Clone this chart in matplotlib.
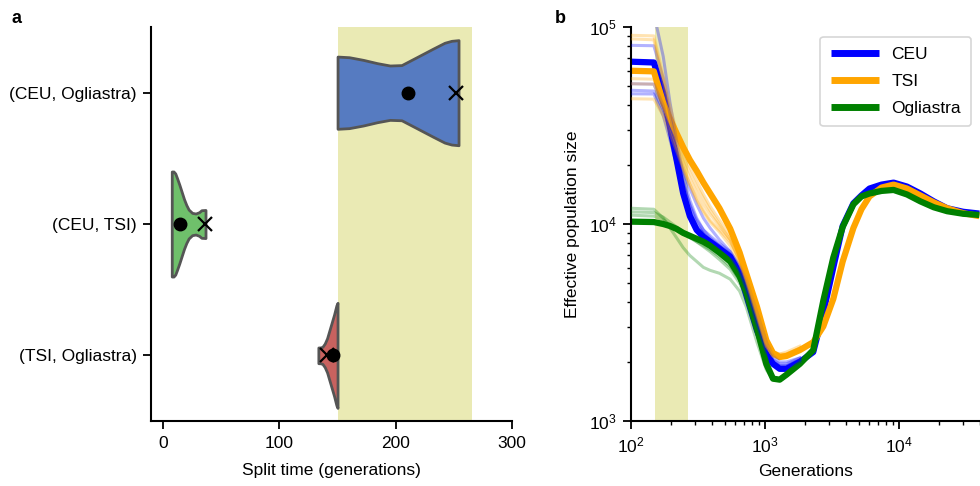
import matplotlib
matplotlib.use("Agg")
import matplotlib.pyplot as plt
import numpy as np

plt.rcParams["font.family"] = ["Liberation Sans", "DejaVu Sans"]
plt.rcParams["mathtext.fontset"] = "custom"
plt.rcParams["mathtext.rm"] = "Liberation Sans"
plt.rcParams["mathtext.it"] = "Liberation Sans:italic"
plt.rcParams["mathtext.bf"] = "Liberation Sans:bold"

FS = 12.5

# ---- panel a: split times ----
PAIRS = ["(CEU, Ogliastra)", "(CEU, TSI)", "(TSI, Ogliastra)"]
PAIR_COLORS = ["#567bc1", "#6fc06b", "#c8625f"]

# violin outlines: split time vs half width
VIOLIN_X = [
    [150, 160, 172, 184, 195, 205, 218, 232, 242, 248, 254],
    [7.5, 9, 10.5, 12, 14, 16, 18, 20, 22, 25, 28, 31, 33, 36.5],
    [133.5, 135, 137, 139, 141, 143, 145, 147, 149, 150],
]
VIOLIN_W = [
    [0.275, 0.27, 0.25, 0.225, 0.207, 0.21, 0.27, 0.335, 0.38, 0.395, 0.40],
    [0.40, 0.40, 0.385, 0.35, 0.30, 0.245, 0.19, 0.145, 0.11, 0.085, 0.08, 0.09, 0.105, 0.107],
    [0.06, 0.06, 0.065, 0.09, 0.13, 0.19, 0.25, 0.31, 0.38, 0.40],
]
DOT_X = [210.5, 14.5, 146.5]
CROSS_X = [252, 36, 141]

SHADE = (150, 266)

# ---- panel b: effective population size trajectories ----
GENERATIONS = [100, 148, 174, 195, 219, 245, 275, 309, 347, 389, 457, 550, 646, 724,
               871, 1023, 1148, 1288, 1445, 1820, 2291, 2723, 3236, 3802, 4571, 5248,
               6026, 7413, 9120, 11482, 14454, 18197, 22909, 30200, 39811]

# log10 of Ne
LOG_NE_CEU = [4.824, 4.82, 4.665, 4.495, 4.325, 4.156, 4.04, 3.97, 3.935, 3.91, 3.875,
              3.834, 3.75, 3.64, 3.46, 3.34, 3.29, 3.265, 3.265, 3.30, 3.35, 3.55, 3.78,
              3.99, 4.105, 4.145, 4.18, 4.20, 4.21, 4.19, 4.155, 4.115, 4.08, 4.062, 4.053]
LOG_NE_TSI = [4.778, 4.775, 4.615, 4.535, 4.46, 4.39, 4.325, 4.27, 4.21, 4.156, 4.08,
              3.976, 3.856, 3.75, 3.58, 3.41, 3.345, 3.325, 3.33, 3.36, 3.40, 3.48, 3.62,
              3.81, 3.98, 4.075, 4.14, 4.185, 4.20, 4.18, 4.145, 4.11, 4.08, 4.055, 4.04]
LOG_NE_OGL = [4.012, 4.01, 4.0, 3.99, 3.975, 3.955, 3.94, 3.925, 3.91, 3.89, 3.855,
              3.81, 3.735, 3.655, 3.47, 3.29, 3.215, 3.21, 3.235, 3.29, 3.36, 3.61, 3.83,
              3.985, 4.10, 4.14, 4.155, 4.168, 4.173, 4.15, 4.115, 4.085, 4.065, 4.052, 4.046]

# bootstrap replicates, first 20 generation points
REP_CEU = [
    [4.907, 4.905, 4.74, 4.56, 4.38, 4.22, 4.09, 4.00, 3.95, 3.92, 3.89, 3.85, 3.78, 3.70, 3.52, 3.38, 3.31, 3.28, 3.28, 3.31],
    [4.712, 4.71, 4.60, 4.47, 4.33, 4.20, 4.10, 4.02, 3.97, 3.94, 3.90, 3.86, 3.79, 3.72, 3.55, 3.40, 3.33, 3.30, 3.30, 3.32],
    [4.679, 4.675, 4.58, 4.48, 4.37, 4.27, 4.18, 4.10, 4.03, 3.98, 3.92, 3.86, 3.78, 3.70, 3.53, 3.38, 3.31, 3.29, 3.29, 3.32],
    [5.08, 5.07, 4.85, 4.62, 4.42, 4.25, 4.12, 4.03, 3.97, 3.93, 3.89, 3.84, 3.76, 3.67, 3.49, 3.35, 3.29, 3.27, 3.27, 3.30],
    [4.661, 4.66, 4.55, 4.43, 4.30, 4.17, 4.06, 3.99, 3.95, 3.92, 3.88, 3.84, 3.77, 3.68, 3.50, 3.36, 3.30, 3.28, 3.28, 3.31],
]
REP_TSI = [
    [4.958, 4.955, 4.75, 4.60, 4.47, 4.37, 4.29, 4.22, 4.15, 4.09, 4.02, 3.94, 3.83, 3.74, 3.56, 3.40, 3.35, 3.34, 3.35, 3.38],
    [4.94, 4.935, 4.72, 4.56, 4.43, 4.32, 4.23, 4.16, 4.10, 4.05, 3.99, 3.92, 3.82, 3.73, 3.55, 3.39, 3.34, 3.33, 3.34, 3.37],
    [4.738, 4.735, 4.62, 4.52, 4.42, 4.34, 4.26, 4.19, 4.13, 4.07, 4.00, 3.92, 3.81, 3.72, 3.54, 3.38, 3.33, 3.32, 3.33, 3.36],
    [4.712, 4.71, 4.60, 4.50, 4.39, 4.29, 4.20, 4.12, 4.06, 4.01, 3.96, 3.89, 3.80, 3.71, 3.53, 3.38, 3.33, 3.32, 3.33, 3.36],
    [4.636, 4.634, 4.55, 4.46, 4.37, 4.28, 4.20, 4.13, 4.07, 4.02, 3.97, 3.91, 3.82, 3.73, 3.56, 3.40, 3.35, 3.34, 3.34, 3.37],
]
REP_OGL = [
    [4.08, 4.075, 4.03, 3.98, 3.93, 3.88, 3.84, 3.81, 3.78, 3.765, 3.75, 3.72, 3.66, 3.58, 3.40, 3.26, 3.21, 3.205, 3.23, 3.285],
    [4.062, 4.058, 4.035, 4.01, 3.985, 3.96, 3.935, 3.91, 3.885, 3.86, 3.82, 3.77, 3.70, 3.62, 3.44, 3.27, 3.21, 3.205, 3.23, 3.285],
    [4.045, 4.04, 4.02, 3.995, 3.97, 3.95, 3.93, 3.91, 3.89, 3.87, 3.835, 3.785, 3.715, 3.64, 3.46, 3.28, 3.215, 3.21, 3.235, 3.29],
]

POPS = ["CEU", "TSI", "Ogliastra"]
POP_COLORS = ["#0000ff", "#ffa500", "#008000"]
SHADE_COLOR = "#eaeab4"

fig = plt.figure(figsize=(9.8, 4.86), dpi=100)

# panel a
ax1 = fig.add_axes([0.1545, 0.1337, 0.368, 0.8107])
ax1.axvspan(*SHADE, color=SHADE_COLOR, lw=0, zorder=0)
for i in range(len(PAIRS)):
    x = np.array(VIOLIN_X[i])
    w = np.array(VIOLIN_W[i])
    ax1.fill_between(x, i - w, i + w, facecolor=PAIR_COLORS[i], edgecolor="#555555",
                     linewidth=2, zorder=2)
ax1.plot(DOT_X, range(len(PAIRS)), "o", color="black", ms=9, zorder=4)
ax1.plot(CROSS_X, range(len(PAIRS)), "x", color="black", ms=10, mew=1.6, zorder=3)
ax1.set_xlim(-10, 300)
ax1.set_ylim(2.5, -0.5)
ax1.set_yticks(range(len(PAIRS)))
ax1.set_yticklabels(PAIRS)
ax1.set_xticks([0, 100, 200, 300])
ax1.set_xlabel("Split time (generations)", fontsize=FS, labelpad=9)
for s in ["top", "right"]:
    ax1.spines[s].set_visible(False)
for s in ["left", "bottom"]:
    ax1.spines[s].set_linewidth(1.5)
ax1.tick_params(labelsize=FS, width=1.3, length=5.5, pad=5)

# panel b
ax2 = fig.add_axes([0.6439, 0.1337, 0.3561, 0.8107])
ax2.axvspan(*SHADE, color=SHADE_COLOR, lw=0, zorder=0)
mains = [LOG_NE_CEU, LOG_NE_TSI, LOG_NE_OGL]
reps = [REP_CEU, REP_TSI, REP_OGL]
gens = np.array(GENERATIONS)
for pop, col, main, rr in zip(POPS, POP_COLORS, mains, reps):
    ax2.plot(gens, 10 ** np.array(main), color=col, lw=4.5, label=pop, zorder=2,
             solid_capstyle="butt", solid_joinstyle="round")
    for r in rr:
        ax2.plot(gens[:len(r)], 10 ** np.array(r), color=col, lw=2.2, alpha=0.3, zorder=3)
ax2.set_xscale("log")
ax2.set_yscale("log")
ax2.set_xlim(100, 10 ** 4.605)
ax2.set_ylim(1e3, 1e5)
ax2.set_xlabel("Generations", fontsize=FS, labelpad=6)
ax2.set_ylabel("Effective population size", fontsize=FS, labelpad=6)
for s in ["top", "right"]:
    ax2.spines[s].set_visible(False)
for s in ["left", "bottom"]:
    ax2.spines[s].set_linewidth(1.5)
ax2.tick_params(which="major", labelsize=FS, width=1.3, length=5.5, pad=5)
ax2.tick_params(which="minor", width=1.0, length=3)
leg = ax2.legend(loc="upper left", bbox_to_anchor=(0.542, 0.975), fontsize=FS,
                 handlelength=2.8, labelspacing=0.67, borderpad=0.6, handletextpad=0.7,
                 borderaxespad=0)
for ln in leg.get_lines():
    ln.set_linewidth(5)
leg.get_frame().set_linewidth(1.2)

fig.text(0.012, 0.953, "a", fontsize=13, fontweight="bold")
fig.text(0.566, 0.953, "b", fontsize=13, fontweight="bold")

fig.savefig("out.png", dpi=100)
